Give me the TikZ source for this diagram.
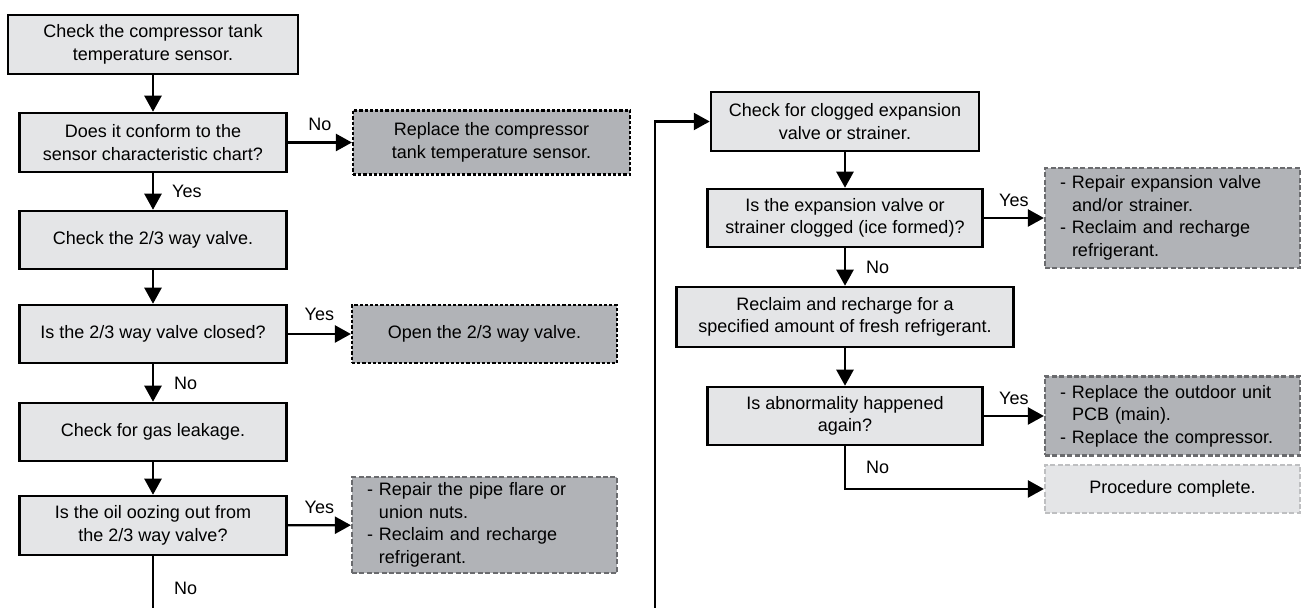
\documentclass[tikz,border=0pt]{standalone}
\usepackage{fontspec}
\setmainfont{Liberation Sans}
\usetikzlibrary{arrows.meta, positioning}
\definecolor{BoxGray}{HTML}{E4E5E7}
\definecolor{ActGray}{HTML}{B1B3B7}
\definecolor{DashGray}{HTML}{6A6B6E}
\definecolor{DoneDash}{HTML}{BEBFC1}
\newcommand{\boxfont}{\fontsize{9}{11.25}\selectfont}
\tikzset{
    % Box styles
    stepbox/.style={
        rectangle,
        draw=black,
        fill=BoxGray,
        line width=1.25pt,
        inner sep=0pt,
        align=center,
        font=\boxfont
    },
    actbox/.style={
        rectangle,
        draw=black,
        fill=ActGray,
        line width=1.1pt,
        dash pattern=on 1.6pt off 1pt,
        inner sep=0pt,
        align=center,
        font=\boxfont
    },
    listbox/.style={
        rectangle,
        draw=DashGray,
        fill=ActGray,
        line width=1.1pt,
        dash pattern=on 2.5pt off 1.2pt,
        inner xsep=7.5pt,
        inner ysep=0pt,
        align=left,
        font=\boxfont
    },
    donebox/.style={
        rectangle,
        draw=DoneDash,
        fill=BoxGray,
        line width=1.1pt,
        dash pattern=on 2.5pt off 1.2pt,
        inner sep=0pt,
        align=center,
        font=\boxfont
    },
    % Arrow styles
    arrow/.style={
        -{Triangle[length=8pt,width=8.5pt]},
        line width=1.2pt,
        draw=black
    },
    plainline/.style={
        line width=1.2pt,
        draw=black
    },
    lbl/.style={
        font=\boxfont,
        inner sep=0pt
    }
}
\newcommand{\hang}{\phantom{- }}
\begin{document}
\begin{tikzpicture}[x=0.5pt, y=-0.5pt]
    \useasboundingbox (0,0) rectangle (1303,608);

    % left column
    \node[stepbox, minimum width=145pt, minimum height=29.5pt] (chksensor) at (153,44.5) {Check the compressor tank\\temperature sensor.};
    \node[stepbox, minimum width=133.5pt, minimum height=29.5pt] (conform) at (153,142.5) {Does it conform to the\\sensor characteristic chart?};
    \node[stepbox, minimum width=133.5pt, minimum height=29pt] (chkvalve) at (153,240) {Check the 2/3 way valve.};
    \node[stepbox, minimum width=133.5pt, minimum height=29pt] (closed) at (153,334) {Is the 2/3 way valve closed?};
    \node[stepbox, minimum width=133.5pt, minimum height=29pt] (leak) at (153,432) {Check for gas leakage.};
    \node[stepbox, minimum width=133.5pt, minimum height=29.5pt] (oozing) at (153,525.5) {Is the oil oozing out from\\the 2/3 way valve?};

    \node[actbox, minimum width=138.5pt, minimum height=32pt] (replsensor) at (491.5,142.5) {Replace the compressor\\tank temperature sensor.};
    \node[actbox, minimum width=132.5pt, minimum height=29pt] (openvalve) at (484.5,334) {Open the 2/3 way valve.};
    \node[listbox, text width=117.5pt, minimum height=48pt] (repairpipe) at (484.5,525) {- Repair the pipe flare or\\\hang union nuts.\\- Reclaim and recharge\\\hang refrigerant.};

    % right column
    \node[stepbox, minimum width=134pt, minimum height=29.5pt] (chkclog) at (845,121.5) {Check for clogged expansion\\valve or strainer.};
    \node[stepbox, minimum width=137.5pt, minimum height=29pt] (clogged) at (845,218) {Is the expansion valve or\\strainer clogged (ice formed)?};
    \node[stepbox, minimum width=168.5pt, minimum height=30pt] (recharge) at (845,317) {Reclaim and recharge for a\\specified amount of fresh refrigerant.};
    \node[stepbox, minimum width=137.5pt, minimum height=29pt] (again) at (845,416) {Is abnormality happened\\again?};

    \node[listbox, text width=112.5pt, minimum height=50pt] (repairexp) at (1172.5,218) {- Repair expansion valve\\\hang and/or strainer.\\- Reclaim and recharge\\\hang refrigerant.};
    \node[listbox, text width=112.5pt, minimum height=39.5pt] (replpcb) at (1172.5,416) {- Replace the outdoor unit\\\hang PCB (main).\\- Replace the compressor.};
    \node[donebox, minimum width=127.5pt, minimum height=24pt] (done) at (1172.5,489) {Procedure complete.};

    % page-break ends
    \coordinate (leftend) at (153,608);
    \coordinate (rightend) at (655,608);

    \draw[arrow] (chksensor) -- (conform);
    \draw[arrow] (conform) -- node[lbl, above=5.5pt] (no1) {No} (replsensor);
    \draw[arrow] (conform) -- node[lbl, right=9pt] (yes1) {Yes} (chkvalve);
    \draw[arrow] (chkvalve) -- (closed);
    \draw[arrow] (closed) -- node[lbl, above=6pt] (yes2) {Yes} (openvalve);
    \draw[arrow] (closed) -- node[lbl, right=10pt] (no2) {No} (leak);
    \draw[arrow] (leak) -- (oozing);
    \draw[arrow] (oozing) -- node[lbl, above=5pt] (yes3) {Yes} (repairpipe);
    \draw[plainline] (oozing) -- node[lbl, right=10pt, yshift=-3pt] (no3) {No} (leftend);

    \draw[arrow] (rightend) |- (chkclog);
    \draw[arrow] (chkclog) -- (clogged);
    \draw[arrow] (clogged) -- node[lbl, above=5pt] (yes4) {Yes} (repairexp);
    \draw[arrow] (clogged) -- node[lbl, right=10pt] (no4) {No} (recharge);
    \draw[arrow] (recharge) -- (again);
    \draw[arrow] (again) -- node[lbl, above=5pt] (yes5) {Yes} (replpcb);
    \draw[arrow] (again) |- node[lbl, pos=0.25, right=10pt] (no5) {No} (done);
\end{tikzpicture}
\end{document}
